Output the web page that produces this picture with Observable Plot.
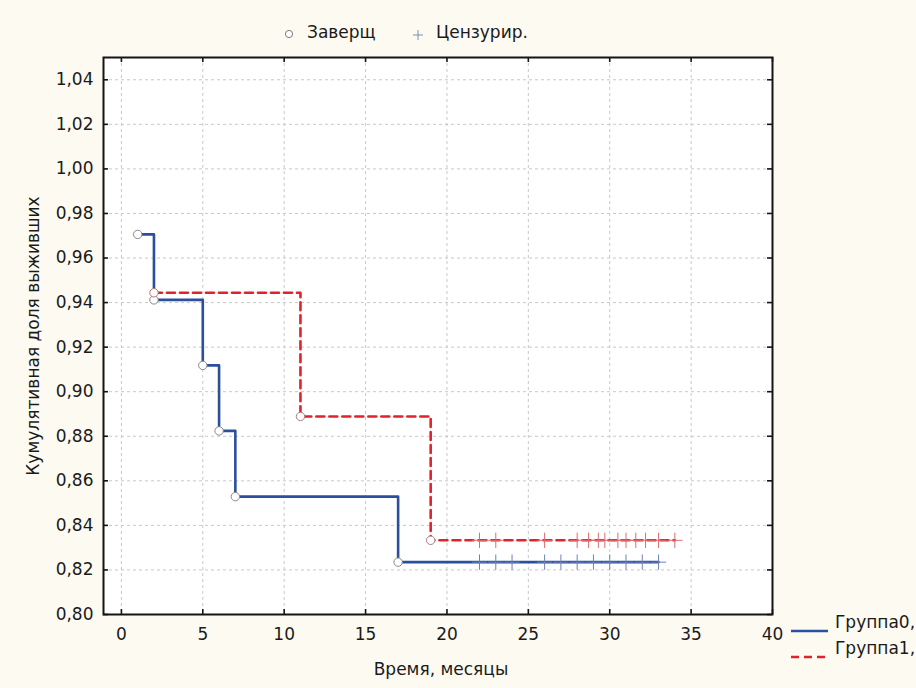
<!DOCTYPE html>
<html>
<head>
<meta charset="utf-8">
<script src="https://cdn.jsdelivr.net/npm/d3@7"></script>
<script src="https://cdn.jsdelivr.net/npm/@observablehq/plot@0.6"></script>
<style>
  html, body { margin: 0; padding: 0; background: #fdfbf1; }
  #wrap { position: relative; width: 916px; height: 688px; font-family: "DejaVu Sans", sans-serif; color: #1a1a1a; }
  #wrap svg.plot { position: absolute; left: 0; top: 0; }
  .lbl { position: absolute; font-size: 17px; white-space: nowrap; line-height: 1; }
  .sym { position: absolute; }
</style>
</head>
<body>
<div id="wrap"></div>
<script>
// ---- data ----
const xTicks = [0, 5, 10, 15, 20, 25, 30, 35, 40];
const yTicks = [0.80, 0.82, 0.84, 0.86, 0.88, 0.90, 0.92, 0.94, 0.96, 0.98, 1.00, 1.02, 1.04];

// Group0 (blue): step points (time, survival); last point is end of follow-up
const group0Time = [1, 2, 5, 6, 7, 17, 33];
const group0Surv = [0.9706, 0.9412, 0.9118, 0.8824, 0.8529, 0.8235, 0.8235];
const group0Censored = [22, 23, 24, 26, 27, 28, 29, 30, 31, 32, 33];

// Group1 (red)
const group1Time = [2, 11, 19, 34];
const group1Surv = [0.9444, 0.8889, 0.8333, 0.8333];
const group1Censored = [22, 23, 26, 28, 28.7, 29.3, 29.7, 30.5, 31, 31.6, 32.2, 33, 34];

const seriesNames = ["Группа0,", "Группа1,"];
const legendTop = ["Заверщ", "Цензурир."];
const xTitle = "Время, месяцы";
const yTitle = "Кумулятивная доля выживших";

// ---- build tables ----
const g0 = group0Time.map((t, i) => ({t, s: group0Surv[i]}));
const g1 = group1Time.map((t, i) => ({t, s: group1Surv[i]}));
const ev0 = g0.slice(0, -1);
const ev1 = g1.slice(0, -1);
const c0 = group0Censored.map(t => ({t, s: group0Surv[group0Surv.length - 1]}));
const c1 = group1Censored.map(t => ({t, s: group1Surv[group1Surv.length - 1]}));

const BLUE = "#2b4f9f";
const RED = "#e0232b";
const fmt = d => d.toFixed(2).replace(".", ",");

const chart = Plot.plot({
  width: 916,
  height: 688,
  marginLeft: 103,
  marginRight: 144,
  marginTop: 57,
  marginBottom: 74,
  x: {domain: [-1.1, 40]},
  y: {domain: [0.80, 1.05]},
  style: {background: "transparent", fontFamily: "DejaVu Sans, sans-serif", fontSize: "17px", color: "#1a1a1a"},
  marks: [
    Plot.frame({fill: "white", stroke: null}),
    Plot.ruleX(xTicks, {x: d => d, stroke: "#c8c8c8", strokeDasharray: "3,3", strokeWidth: 1}),
    Plot.ruleY(yTicks, {y: d => d, stroke: "#c8c8c8", strokeDasharray: "3,3", strokeWidth: 1}),
    Plot.line(g0, {x: "t", y: "s", curve: "step-after", stroke: BLUE, strokeWidth: 2.6}),
    Plot.line(g1, {x: "t", y: "s", curve: "step-after", stroke: RED, strokeWidth: 2.6, strokeDasharray: "8,5"}),
    Plot.dot(c0, {x: "t", y: "s", symbol: "plus", r: 5, stroke: "#6f82b8", strokeWidth: 1}),
    Plot.dot(c1, {x: "t", y: "s", symbol: "plus", r: 5, stroke: "#e06a70", strokeWidth: 1}),
    Plot.dot(ev0, {x: "t", y: "s", r: 4.2, fill: "white", stroke: "#8a8a8a", strokeWidth: 1}),
    Plot.dot(ev1, {x: "t", y: "s", r: 4.2, fill: "white", stroke: "#b07a7c", strokeWidth: 1}),
    Plot.frame({stroke: "#151515", strokeWidth: 2}),
    Plot.tickX(xTicks, {x: d => d, insetTop: 552, stroke: "#151515", strokeWidth: 1.6}),
    Plot.tickX(xTicks, {x: d => d, insetBottom: 552, stroke: "#151515", strokeWidth: 1.6}),
    Plot.tickY(yTicks, {y: d => d, insetRight: 664, stroke: "#151515", strokeWidth: 1.6}),
    Plot.tickY(yTicks, {y: d => d, insetLeft: 664, stroke: "#151515", strokeWidth: 1.6}),
    Plot.axisX({ticks: xTicks, tickSize: 0, tickPadding: 13, label: null, tickFormat: d => String(d)}),
    Plot.axisY({ticks: yTicks, tickSize: 0, tickPadding: 10, label: null, tickFormat: fmt})
  ]
});
const wrap = document.getElementById("wrap");
chart.classList.add("plot");
wrap.appendChild(chart);

function addLabel(text, x, y, anchor, rotate) {
  const s = document.createElement("span");
  s.className = "lbl";
  s.textContent = text;
  s.style.left = x + "px";
  s.style.top = y + "px";
  let tr = anchor === "middle" ? "translate(-50%,-50%)" : "translate(0,-50%)";
  if (rotate) tr += " rotate(-90deg)";
  s.style.transform = tr;
  wrap.appendChild(s);
}
function addSym(svgInner, x, y, w, h) {
  const d = document.createElement("div");
  d.className = "sym";
  d.style.left = x + "px";
  d.style.top = y + "px";
  d.innerHTML = `<svg width="${w}" height="${h}" xmlns="http://www.w3.org/2000/svg">${svgInner}</svg>`;
  wrap.appendChild(d);
}

// titles
addLabel(xTitle, 441, 669, "middle");
addLabel(yTitle, 33, 336, "middle", true);

// top legend
addSym(`<circle cx="6" cy="6" r="3.6" fill="white" stroke="#7a7a7a" stroke-width="1"/>`, 283, 25, 12, 12);
addLabel(legendTop[0], 307, 32, "start");
addSym(`<path d="M1,6H11M6,1V11" stroke="#7f8db5" stroke-width="1"/>`, 412, 26, 12, 12);
addLabel(legendTop[1], 436, 32, "start");

// right legend
addSym(`<line x1="0" y1="3" x2="37" y2="3" stroke="${BLUE}" stroke-width="2.6"/>`, 791, 619, 38, 6);
addLabel(seriesNames[0], 835, 622, "start");
addSym(`<line x1="0" y1="3" x2="37" y2="3" stroke="${RED}" stroke-width="2.6" stroke-dasharray="8,5"/>`, 791, 645, 38, 6);
addLabel(seriesNames[1], 835, 648, "start");
</script>
</body>
</html>
